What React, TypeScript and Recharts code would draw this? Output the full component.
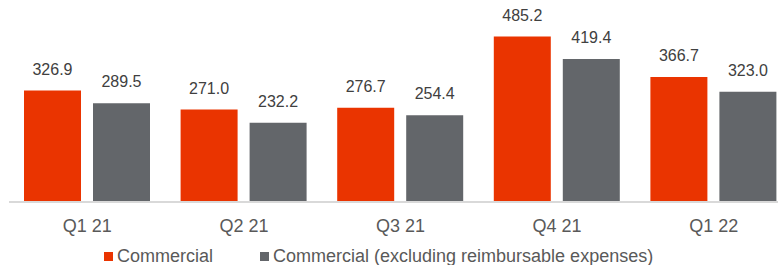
import React from 'react'
import { BarChart, Bar, XAxis, YAxis, Legend, LabelList } from 'recharts'

const quarters = ['Q1 21', 'Q2 21', 'Q3 21', 'Q4 21', 'Q1 22']
const commercial = [326.9, 271.0, 276.7, 485.2, 366.7]
const commercialExReimb = [289.5, 232.2, 254.4, 419.4, 323.0]
const seriesNames = ['Commercial', 'Commercial (excluding reimbursable expenses)']

const RED = '#ea3400'
const GREY = '#63666a'
const FONT = '"Liberation Sans", Arial, sans-serif'

const data = quarters.map((q, i) => ({
  quarter: q,
  commercial: commercial[i],
  excl: commercialExReimb[i],
}))

const fmt = (v: any) => Number(v).toFixed(1)

const LegendContent = () => (
  <div style={{ height: 20, display: 'flex', alignItems: 'center', fontFamily: FONT, fontSize: 18, color: '#595959', whiteSpace: 'nowrap' }}>
    <span style={{ display: 'inline-block', width: 9, height: 9, background: RED, marginLeft: 104, marginRight: 4 }} />
    <span>{seriesNames[0]}</span>
    <span style={{ display: 'inline-block', width: 9, height: 9, background: GREY, marginLeft: 47, marginRight: 4 }} />
    <span>{seriesNames[1]}</span>
  </div>
)

export default function App() {
  return (
    <div style={{ position: 'absolute', left: 0, top: 0, width: 778, height: 265, overflow: 'hidden', background: '#fff' }}>
      <BarChart
        width={792}
        height={265}
        data={data}
        margin={{ top: 11, right: 0, bottom: 13, left: 9 }}
        barSize={57}
        barGap={12}
      >
        <XAxis
          dataKey="quarter"
          height={30}
          tickSize={0}
          tickMargin={17}
          axisLine={{ stroke: '#d9d9d9', strokeWidth: 2 }}
          tick={{ fill: '#595959', fontSize: 18, fontFamily: FONT }}
        />
        <YAxis hide domain={[0, 560]} />
        <Legend verticalAlign="bottom" align="left" content={<LegendContent />} wrapperStyle={{ bottom: -1, left: 0 }} />
        <Bar dataKey="commercial" name={seriesNames[0]} fill={RED} isAnimationActive={false}>
          <LabelList dataKey="commercial" position="top" offset={16} formatter={fmt} style={{ fill: '#404040', fontSize: 16, fontFamily: FONT }} />
        </Bar>
        <Bar dataKey="excl" name={seriesNames[1]} fill={GREY} isAnimationActive={false}>
          <LabelList dataKey="excl" position="top" offset={16} formatter={fmt} style={{ fill: '#404040', fontSize: 16, fontFamily: FONT }} />
        </Bar>
      </BarChart>
    </div>
  )
}
